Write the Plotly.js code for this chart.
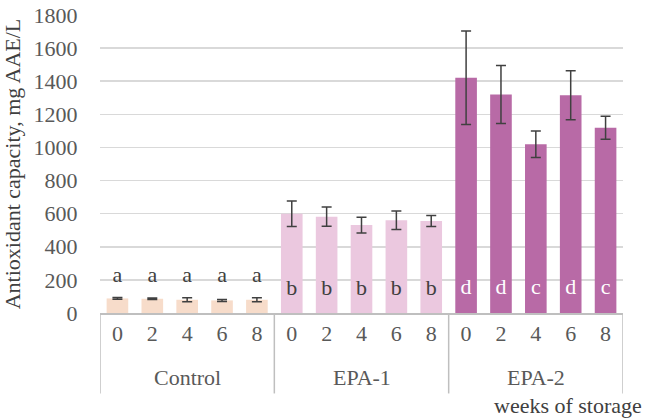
<!DOCTYPE html>
<html>
<head>
<meta charset="utf-8">
<script src="https://cdn.plot.ly/plotly-3.0.1.min.js"></script>
<style>html,body{margin:0;padding:0;background:#fff;}#chart{width:646px;height:418px;}</style>
</head>
<body>
<div id="chart"></div>
<script>
// ---- data ----
const groups = ['Control', 'EPA-1', 'EPA-2'];
const weeks = ['0', '2', '4', '6', '8'];
const controlValues = [88, 86, 80, 76, 80];
const controlErrors = [5, 4, 12, 6, 12];
const epa1Values = [600, 582, 531, 560, 556];
const epa1Errors = [77, 58, 48, 56, 33];
const epa2Values = [1421, 1320, 1020, 1316, 1119];
const epa2Errors = [282, 175, 80, 148, 70];
const controlLetters = ['a', 'a', 'a', 'a', 'a'];
const epa1Letters = ['b', 'b', 'b', 'b', 'b'];
const epa2Letters = ['d', 'd', 'c', 'd', 'c'];
const yTicks = [0, 200, 400, 600, 800, 1000, 1200, 1400, 1600, 1800];

// ---- styling ----
const groupColors = ['#f7dcca', '#ebc8df', '#b86aa6'];
const letterColors = ['#404040', '#404040', '#ffffff'];
const letterLevels = [220, 140, 150];
const FONT = '"Liberation Serif", "Times New Roman", serif';
const FS = 22;

const values = [controlValues, epa1Values, epa2Values];
const errors = [controlErrors, epa1Errors, epa2Errors];
const letters = [controlLetters, epa1Letters, epa2Letters];

const xPos = [], tickText = [], yVal = [], yErr = [], colors = [];
const letterX = [], letterY = [], letterT = [], letterC = [];
groups.forEach((g, gi) => {
  weeks.forEach((w, wi) => {
    const idx = gi * weeks.length + wi;
    xPos.push(idx); tickText.push(w);
    yVal.push(values[gi][wi]); yErr.push(errors[gi][wi]);
    colors.push(groupColors[gi]);
    letterX.push(idx); letterY.push(letterLevels[gi]);
    letterT.push(letters[gi][wi]); letterC.push(letterColors[gi]);
  });
});

const traces = [{
  type: 'bar',
  x: xPos,
  y: yVal,
  marker: {color: colors, line: {width: 0}},
  error_y: {type: 'data', array: yErr, visible: true, color: '#404040', thickness: 1.5, width: 5},
  hoverinfo: 'skip',
  showlegend: false
}, {
  type: 'scatter',
  mode: 'text',
  x: letterX,
  y: letterY,
  text: letterT,
  textposition: 'middle center',
  textfont: {family: FONT, size: FS, color: letterC},
  hoverinfo: 'skip',
  showlegend: false
}];

const n = xPos.length;
const shapes = [];
for (let gi = 0; gi <= groups.length; gi++) {
  const xb = gi * weeks.length - 0.5;
  shapes.push({
    type: 'line', xref: 'x', yref: 'paper',
    x0: xb, x1: xb, y0: 0, y1: -0.27,
    line: {color: '#bfbfbf', width: 1.5}
  });
}

const annotations = groups.map((g, gi) => ({
  text: g, xref: 'x', yref: 'paper',
  x: gi * weeks.length + (weeks.length - 1) / 2, y: -0.218,
  xanchor: 'center', yanchor: 'middle', showarrow: false,
  font: {family: FONT, size: FS, color: '#595959'}
}));
annotations.push({
  text: 'weeks of storage', xref: 'paper', yref: 'paper',
  x: 1.04, y: -0.31, xanchor: 'right', yanchor: 'middle',
  showarrow: false, font: {family: FONT, size: FS, color: '#404040'}
});

const layout = {
  width: 646, height: 418,
  margin: {l: 100, r: 23, t: 15, b: 105},
  paper_bgcolor: '#ffffff', plot_bgcolor: '#ffffff',
  font: {family: FONT, size: FS, color: '#595959'},
  bargap: 0.38,
  showlegend: false,
  xaxis: {
    type: 'linear',
    range: [-0.5, n - 0.5],
    tickvals: xPos, ticktext: tickText,
    showgrid: false, zeroline: false,
    showline: true, linecolor: '#bfbfbf', linewidth: 1.5,
    ticks: '', 
    tickfont: {family: FONT, size: FS, color: '#595959'},
    fixedrange: true
  },
  yaxis: {
    range: [0, 1800],
    tickvals: yTicks,
    ticktext: yTicks.map(String),
    showgrid: true, gridcolor: '#d9d9d9', gridwidth: 1.5,
    zeroline: false, showline: false,
    ticks: 'outside', ticklen: 17, tickcolor: 'rgba(0,0,0,0)',
    tickfont: {family: FONT, size: FS, color: '#595959'},
    title: {text: 'Antioxidant capacity, mg AAE/L', font: {family: FONT, size: FS, color: '#404040'}, standoff: 6},
    automargin: false,
    fixedrange: true
  },
  shapes: shapes,
  annotations: annotations
};

Plotly.newPlot('chart', traces, layout, {displayModeBar: false, staticPlot: true});
</script>
</body>
</html>
